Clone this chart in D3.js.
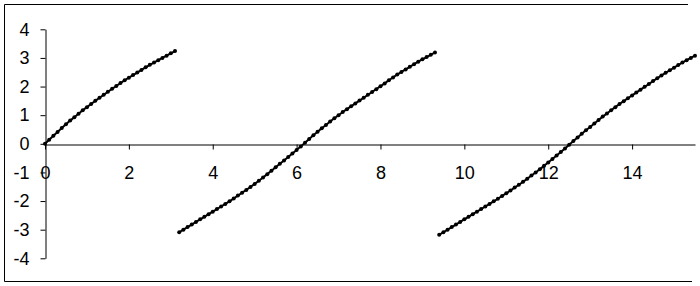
<!DOCTYPE html>
<html>
<head>
<meta charset="utf-8">
<script src="https://cdn.jsdelivr.net/npm/d3@7"></script>
<style>
  body { margin: 0; background: #fff; }
  svg { display: block; }
</style>
</head>
<body>
<div id="chart"></div>
<script>
// wrapped curve, sampled every 0.1 on x, three branches

// branch 1
const xBranch1 = [0, 0.1, 0.2, 0.3, 0.4, 0.5, 0.6, 0.7, 0.8, 0.9, 1.0, 1.1, 1.2, 1.3, 1.4, 1.5,
  1.6, 1.7, 1.8, 1.9, 2.0, 2.1, 2.2, 2.3, 2.4, 2.5, 2.6, 2.7, 2.8, 2.9, 3.0, 3.1];
const yBranch1 = [0.00, 0.14, 0.28, 0.41, 0.55, 0.68, 0.81, 0.93, 1.05, 1.17, 1.28, 1.39, 1.50, 1.61, 1.71, 1.82,
  1.92, 2.02, 2.12, 2.22, 2.31, 2.40, 2.49, 2.58, 2.67, 2.76, 2.84, 2.92, 3.00, 3.08, 3.16, 3.24];

// branch 2
const xBranch2 = [3.2, 3.3, 3.4, 3.5, 3.6, 3.7, 3.8, 3.9, 4.0, 4.1, 4.2, 4.3, 4.4, 4.5, 4.6, 4.7,
  4.8, 4.9, 5.0, 5.1, 5.2, 5.3, 5.4, 5.5, 5.6, 5.7, 5.8, 5.9, 6.0, 6.1, 6.2, 6.3,
  6.4, 6.5, 6.6, 6.7, 6.8, 6.9, 7.0, 7.1, 7.2, 7.3, 7.4, 7.5, 7.6, 7.7, 7.8, 7.9,
  8.0, 8.1, 8.2, 8.3, 8.4, 8.5, 8.6, 8.7, 8.8, 8.9, 9.0, 9.1, 9.2, 9.3];
const yBranch2 = [-3.09, -3.00, -2.91, -2.82, -2.73, -2.64, -2.55, -2.46, -2.37, -2.28, -2.19, -2.10, -2.01, -1.91, -1.81, -1.71,
  -1.61, -1.51, -1.40, -1.29, -1.18, -1.06, -0.94, -0.82, -0.70, -0.58, -0.46, -0.34, -0.22, -0.09, 0.04, 0.17,
  0.30, 0.42, 0.54, 0.66, 0.78, 0.89, 1.00, 1.11, 1.21, 1.31, 1.41, 1.51, 1.61, 1.71, 1.81, 1.91,
  2.01, 2.11, 2.22, 2.32, 2.42, 2.51, 2.60, 2.69, 2.78, 2.87, 2.95, 3.03, 3.11, 3.19];

// branch 3
const xBranch3 = [9.4, 9.5, 9.6, 9.7, 9.8, 9.9, 10.0, 10.1, 10.2, 10.3, 10.4, 10.5, 10.6, 10.7, 10.8, 10.9,
  11.0, 11.1, 11.2, 11.3, 11.4, 11.5, 11.6, 11.7, 11.8, 11.9, 12.0, 12.1, 12.2, 12.3, 12.4, 12.5,
  12.6, 12.7, 12.8, 12.9, 13.0, 13.1, 13.2, 13.3, 13.4, 13.5, 13.6, 13.7, 13.8, 13.9, 14.0, 14.1,
  14.2, 14.3, 14.4, 14.5, 14.6, 14.7, 14.8, 14.9, 15.0, 15.1, 15.2, 15.3, 15.4, 15.5];
const yBranch3 = [-3.18, -3.09, -3.00, -2.91, -2.82, -2.73, -2.64, -2.55, -2.46, -2.37, -2.28, -2.19, -2.10, -2.01, -1.92, -1.82,
  -1.73, -1.63, -1.53, -1.43, -1.33, -1.22, -1.11, -1.00, -0.89, -0.77, -0.65, -0.53, -0.41, -0.29, -0.16, -0.03,
  0.10, 0.22, 0.35, 0.47, 0.59, 0.71, 0.83, 0.95, 1.06, 1.17, 1.28, 1.39, 1.49, 1.59, 1.69, 1.79,
  1.89, 1.99, 2.09, 2.19, 2.29, 2.39, 2.48, 2.57, 2.66, 2.75, 2.84, 2.92, 3.00, 3.08];

// axis ticks
const xTicks = [0, 2, 4, 6, 8, 10, 12, 14];
const yTicks = [-4, -3, -2, -1, 0, 1, 2, 3, 4];

var width = 700;
var height = 286;

var svg = d3.select("#chart")
  .append("svg")
  .attr("width", width)
  .attr("height", height);

// chart area frame (right edge is cut off in the original)
svg.append("path")
  .attr("d", "M688,4.5 H4.5 V281.5 H692")
  .attr("fill", "none")
  .attr("stroke", "#000")
  .attr("stroke-width", 1);

var x = d3.scaleLinear().domain([0, 15.5]).range([45, 695]);
var y = d3.scaleLinear().domain([-4, 4]).range([258.3, 29.3]);

// plain hyphen minus like the original
var fmt = function(d) { return String(d); };

// y axis on the left
var yAxis = svg.append("g")
  .attr("transform", "translate(" + Math.round(x(0)) + ".5,0)")
  .call(d3.axisLeft(y).tickValues(yTicks).tickSize(5).tickSizeOuter(0).tickPadding(11).tickFormat(fmt));

// x axis crosses at y = 0
var xAxis = svg.append("g")
  .attr("transform", "translate(0," + Math.round(y(0)) + ".5)")
  .call(d3.axisBottom(x).tickValues(xTicks).tickSize(5).tickSizeOuter(0).tickPadding(17).tickFormat(fmt));

[yAxis, xAxis].forEach(function(g) {
  g.select(".domain").attr("stroke", "#000").attr("stroke-width", 1);
  g.selectAll(".tick line").attr("stroke", "#000");
  g.selectAll(".tick text")
    .style("font-family", "Arial, 'Liberation Sans', sans-serif")
    .style("font-size", "18px")
    .attr("fill", "#000");
});

var branches = [
  d3.zip(xBranch1, yBranch1),
  d3.zip(xBranch2, yBranch2),
  d3.zip(xBranch3, yBranch3)
];

var line = d3.line()
  .x(function(d) { return x(d[0]); })
  .y(function(d) { return y(d[1]); });

var plot = svg.append("g");

plot.selectAll(".series-line")
  .data(branches)
  .enter()
  .append("path")
  .attr("class", "series-line")
  .attr("d", line)
  .attr("fill", "none")
  .attr("stroke", "#000")
  .attr("stroke-width", 2);

plot.selectAll(".series-dot")
  .data(branches.flat())
  .enter()
  .append("circle")
  .attr("class", "series-dot")
  .attr("cx", function(d) { return x(d[0]); })
  .attr("cy", function(d) { return y(d[1]); })
  .attr("r", 2)
  .attr("fill", "#000");
</script>
</body>
</html>
